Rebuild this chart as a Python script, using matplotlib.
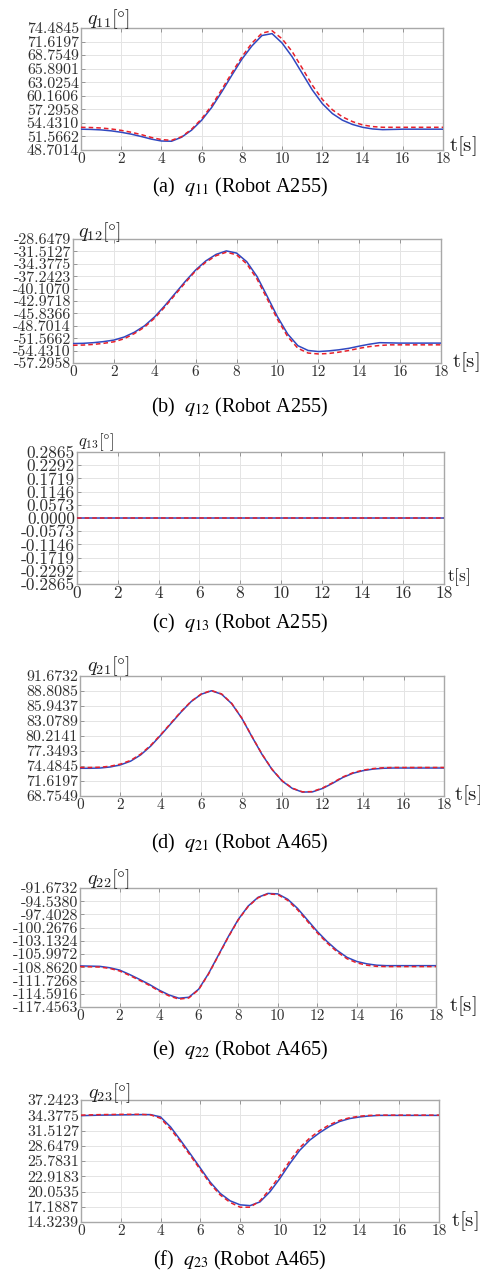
import numpy as np
import matplotlib
matplotlib.use("Agg")
import matplotlib.pyplot as plt
from matplotlib.ticker import FixedLocator

# ---------------- data ----------------
t = np.arange(0, 18.01, 0.5)

q11_blue = [53.1, 53.05, 52.95, 52.75, 52.45, 52.05, 51.55, 51.0, 50.6, 50.55, 51.4, 52.9, 55.0,
            57.7, 61.0, 64.5, 67.9, 70.7, 72.9, 73.3, 71.3, 68.4, 64.9, 61.4, 58.5, 56.4,
            55.0, 54.1, 53.5, 53.15, 53.0, 53.05, 53.1, 53.1, 53.1, 53.1, 53.1]
q11_red = [53.5, 53.45, 53.35, 53.15, 52.85, 52.45, 51.95, 51.35, 50.9, 50.75, 51.5, 53.1, 55.3,
           58.1, 61.5, 65.0, 68.4, 71.3, 73.4, 73.9, 72.2, 69.5, 66.0, 62.4, 59.4, 57.2,
           55.7, 54.7, 54.0, 53.65, 53.5, 53.5, 53.5, 53.5, 53.5, 53.5, 53.5]

q12_blue = [-52.8, -52.75, -52.6, -52.35, -52.0, -51.3, -50.2, -48.7, -46.6, -44.0, -41.2, -38.4,
            -35.8, -33.7, -32.2, -31.4, -31.9, -33.9, -37.3, -41.9, -46.6, -50.6, -53.3, -54.4,
            -54.65, -54.5, -54.25, -53.9, -53.4, -52.95, -52.6, -52.65, -52.7, -52.7, -52.7, -52.7, -52.7]
q12_red = [-53.2, -53.15, -53.0, -52.75, -52.4, -51.7, -50.5, -49.0, -46.9, -44.3, -41.5, -38.7,
           -36.0, -34.0, -32.5, -31.7, -32.3, -34.4, -37.9, -42.5, -47.2, -51.2, -53.9, -55.0,
           -55.2, -55.1, -54.8, -54.4, -53.9, -53.5, -53.25, -53.1, -53.1, -53.1, -53.1, -53.1, -53.1]

q13_blue = [0.0] * 37
q13_red = [0.0] * 37

q21_blue = [74.05, 74.05, 74.1, 74.3, 74.7, 75.4, 76.6, 78.3, 80.4, 82.6, 84.8, 86.8, 88.2,
            88.85, 88.2, 86.4, 83.6, 80.1, 76.7, 73.8, 71.6, 70.2, 69.5, 69.55, 70.2, 71.2,
            72.3, 73.1, 73.6, 73.9, 74.05, 74.1, 74.1, 74.1, 74.1, 74.1, 74.1]
q21_red = [74.2, 74.2, 74.25, 74.45, 74.85, 75.55, 76.75, 78.45, 80.5, 82.7, 84.9, 86.85, 88.25,
           88.9, 88.25, 86.45, 83.65, 80.15, 76.75, 73.85, 71.65, 70.25, 69.55, 69.6, 70.3, 71.3,
           72.4, 73.2, 73.7, 74.0, 74.15, 74.2, 74.2, 74.2, 74.2, 74.2, 74.2]

q22_blue = [-108.55, -108.6, -108.65, -108.95, -109.45, -110.4, -111.45, -112.55, -113.8, -114.85,
            -115.55, -115.35, -113.6, -110.2, -106.2, -102.2, -98.5, -95.6, -93.7, -92.85, -92.95,
            -94.1, -96.1, -98.6, -101.1, -103.3, -105.2, -106.7, -107.6, -108.1, -108.4, -108.5,
            -108.5, -108.5, -108.5, -108.5, -108.5]
q22_red = [-108.7, -108.75, -108.8, -109.1, -109.65, -110.6, -111.65, -112.75, -114.0, -115.05,
           -115.75, -115.5, -113.7, -110.3, -106.3, -102.3, -98.6, -95.7, -93.8, -92.95, -93.1,
           -94.35, -96.4, -98.9, -101.4, -103.6, -105.5, -107.0, -107.9, -108.4, -108.65, -108.7,
           -108.7, -108.7, -108.7, -108.7, -108.7]

q23_blue = [34.3, 34.35, 34.4, 34.42, 34.45, 34.48, 34.5, 34.5, 34.05, 32.2, 29.7, 27.1, 24.45,
            21.8, 19.7, 18.3, 17.55, 17.4, 18.1, 20.0, 22.5, 25.3, 27.8, 29.7, 31.1, 32.3,
            33.2, 33.75, 34.05, 34.25, 34.35, 34.35, 34.35, 34.35, 34.35, 34.35, 34.35]
q23_red = [34.4, 34.45, 34.5, 34.52, 34.55, 34.55, 34.55, 34.45, 33.8, 31.8, 29.4, 26.8, 24.15,
           21.5, 19.4, 18.0, 17.1, 17.1, 18.3, 20.5, 23.0, 25.8, 28.3, 30.1, 31.5, 32.6,
           33.4, 33.9, 34.2, 34.35, 34.4, 34.4, 34.4, 34.4, 34.4, 34.4, 34.4]

xtick_labels = ['0', '2', '4', '6', '8', '10', '12', '14', '16', '18']

yt_a = ['48.7014', '51.5662', '54.4310', '57.2958', '60.1606', '63.0254', '65.8901',
        '68.7549', '71.6197', '74.4845']
yt_b = ['-57.2958', '-54.4310', '-51.5662', '-48.7014', '-45.8366', '-42.9718', '-40.1070',
        '-37.2423', '-34.3775', '-31.5127', '-28.6479']
yt_c = ['-0.2865', '-0.2292', '-0.1719', '-0.1146', '-0.0573', '0.0000', '0.0573', '0.1146',
        '0.1719', '0.2292', '0.2865']
yt_d = ['68.7549', '71.6197', '74.4845', '77.3493', '80.2141', '83.0789', '85.9437',
        '88.8085', '91.6732']
yt_e = ['-117.4563', '-114.5916', '-111.7268', '-108.8620', '-105.9972', '-103.1324',
        '-100.2676', '-97.4028', '-94.5380', '-91.6732']
yt_f = ['14.3239', '17.1887', '20.0535', '22.9183', '25.7831', '28.6479', '31.5127',
        '34.3775', '37.2423']

names = ['11', '12', '13', '21', '22', '23']
letters = ['a', 'b', 'c', 'd', 'e', 'f']
robots = ['A255', 'A255', 'A255', 'A465', 'A465', 'A465']
blues = [q11_blue, q12_blue, q13_blue, q21_blue, q22_blue, q23_blue]
reds = [q11_red, q12_red, q13_red, q21_red, q22_red, q23_red]
yticks = [yt_a, yt_b, yt_c, yt_d, yt_e, yt_f]

# ---------------- layout (pixels) ----------------
W, H = 481, 1271
boxes = [(81, 443, 28, 150), (73, 441, 239, 363), (77, 444, 452, 584),
         (80, 444, 676, 796), (80, 436, 888, 1007), (81, 439, 1100, 1222)]
qlab = [(87, 19), (78, 232), (78, 442), (87, 666), (87, 879), (88, 1093)]
tlab = [(449, 146), (452, 362), (447, 577), (454, 795), (449, 1006), (451, 1221)]
cap_y = [187, 407, 623, 843, 1050, 1260]
tick_fs = [11.5, 11.5, 12.5, 11.5, 11.5, 11.5]
xtick_fs = [11, 11, 12.5, 11, 11, 11]
qlab_fs = [14.5, 14.5, 12, 14.5, 14.5, 14.5]
tlab_fs = [15, 15, 12.5, 15, 15, 15]

BLUE = '#3048c0'
RED = '#e8202a'
SPINE = '#a8a8a8'
TICKC = '#303030'

fig = plt.figure(figsize=(W / 100, H / 100), dpi=100)
fig.patch.set_facecolor('white')

for i in range(6):
    l, r, tp, bt = boxes[i]
    ax = fig.add_axes([l / W, 1 - bt / H, (r - l) / W, (bt - tp) / H])
    yv = [float(s) for s in yticks[i]]
    ax.plot(t, blues[i], color=BLUE, lw=1.1, zorder=3, solid_joinstyle='round')
    ax.plot(t, reds[i], color=RED, lw=1.1, ls=(0, (3, 2)), zorder=4)
    ax.set_xlim(0, 18)
    ax.set_ylim(yv[0], yv[-1])
    xv = [float(s) for s in xtick_labels]
    ax.xaxis.set_major_locator(FixedLocator(xv))
    ax.set_xticklabels(xtick_labels, fontfamily='cmr10', fontsize=xtick_fs[i], color=TICKC)
    ax.yaxis.set_major_locator(FixedLocator(yv))
    ax.set_yticklabels(yticks[i], fontfamily='cmr10', fontsize=tick_fs[i], color=TICKC)
    ax.grid(True, color='#e4e4e4', lw=0.7)
    ax.set_axisbelow(True)
    ax.tick_params(direction='in', length=3, width=0.6, color='#888888',
                   top=True, right=False, pad=1.5)
    for s in ax.spines.values():
        s.set_color(SPINE)
        s.set_linewidth(1.0)
    x, y = qlab[i]
    fig.text(x / W, 1 - y / H, r'$q_{%s}[\degree]$' % names[i], fontsize=qlab_fs[i],
             math_fontfamily='cm', ha='left', va='center', color='#202020')
    x, y = tlab[i]
    fig.text(x / W, 1 - y / H, r'$\mathrm{t[s]}$', fontsize=tlab_fs[i],
             math_fontfamily='cm', ha='left', va='center', color='#202020')
    fig.text(240 / W, 1 - cap_y[i] / H,
             r'(%s)  $q_{%s}$ (Robot %s)' % (letters[i], names[i], robots[i]),
             fontfamily='Liberation Serif', math_fontfamily='stix', fontsize=14.5,
             ha='center', va='center', color='black')

fig.savefig('out.png', dpi=100)
